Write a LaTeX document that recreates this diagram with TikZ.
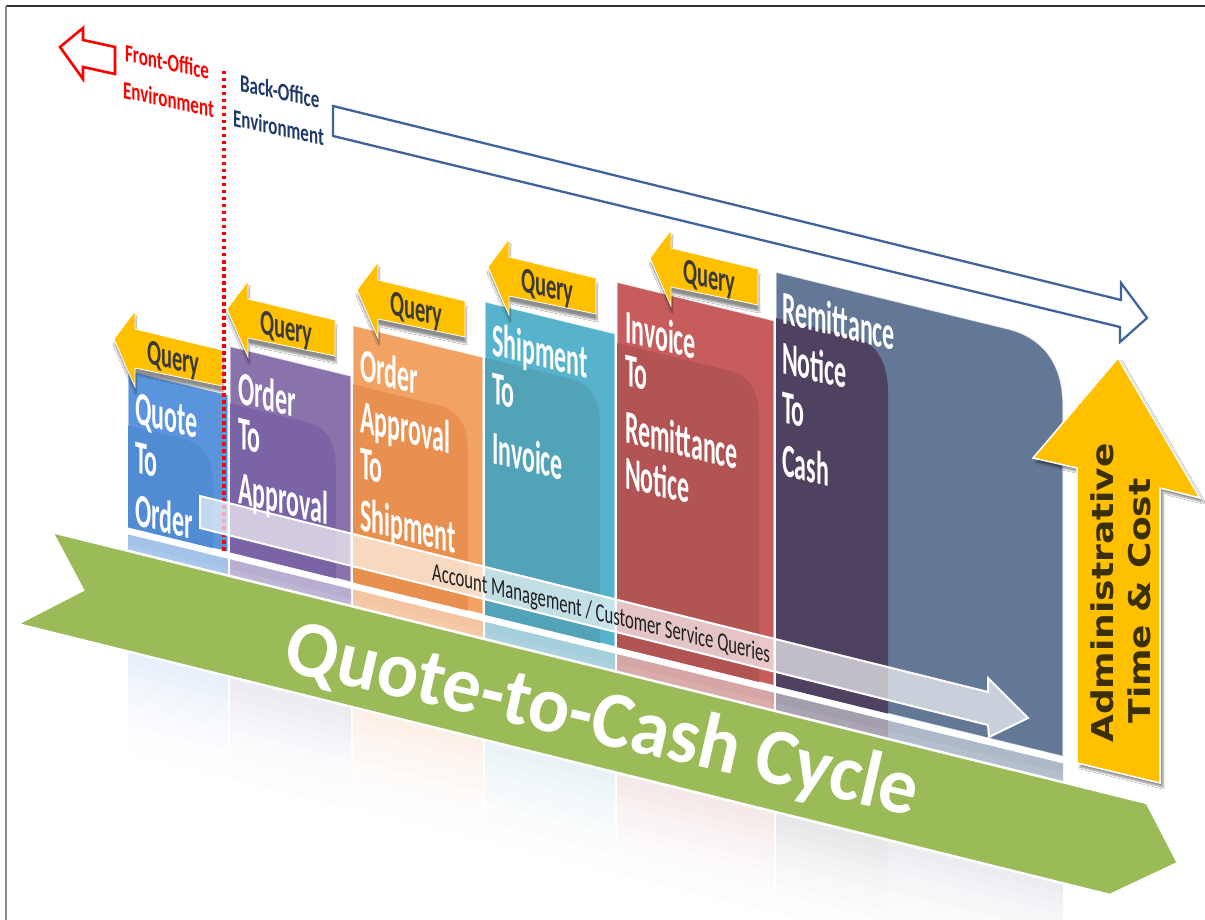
\documentclass[tikz,border=0pt]{standalone}
\usepackage{fontspec}
\setmainfont{Carlito}
\newfontfamily\adminfont{DejaVu Sans}
\usetikzlibrary{shadows.blur}
\definecolor{qyellow}{HTML}{FFC000}
\definecolor{qgreen}{HTML}{9BBB59}
\definecolor{qtext}{HTML}{3A3A3A}
\definecolor{navyline}{HTML}{3F6499}
\definecolor{navytext}{HTML}{1F3A68}
\definecolor{admtext}{HTML}{3A2F05}
\definecolor{amtext}{HTML}{1E1E1E}
\definecolor{poA}{HTML}{5A94DC}\definecolor{piA}{HTML}{518BD4}
\definecolor{poB}{HTML}{8A72AB}\definecolor{piB}{HTML}{7A64A5}
\definecolor{poC}{HTML}{F2A262}\definecolor{piC}{HTML}{E8904F}
\definecolor{poD}{HTML}{57B2CC}\definecolor{piD}{HTML}{52A3B8}
\definecolor{poE}{HTML}{C65C5C}\definecolor{piE}{HTML}{B15453}
\definecolor{poF}{HTML}{637896}\definecolor{piF}{HTML}{4F4260}
\begin{document}
\begin{tikzpicture}[x=1pt,y=-1pt,
  paneltext/.style={anchor=base west, inner sep=0, text=white, font=\bfseries\fontsize{47}{50}\selectfont, yslant=-0.245, xscale=0.51},
  querytext/.style={anchor=base west, inner sep=0, text=qtext, font=\bfseries\fontsize{36}{36}\selectfont, yslant=-0.24, xscale=0.57},
  qarrow/.style={fill=qyellow, draw=white, line width=0.8, blur shadow={shadow xshift=1pt, shadow yshift=-6pt, shadow opacity=45, shadow blur steps=4}},
  envtext/.style={anchor=base west, inner sep=0, font=\bfseries\fontsize{25}{25}\selectfont, yslant=-0.22, xscale=0.68},
  admintext/.style={text=admtext, font=\adminfont\bfseries\fontsize{30}{36}\selectfont, rotate=90, xscale=1.2, inner sep=0},
  outerpanel/.style={draw=white, draw opacity=0.7, line width=1.2},
  hollow/.style={fill=white, line width=2.3, line join=miter},
]
\useasboundingbox (0,0) rectangle (1205,920);
\fill[white] (0,0) rectangle (1205,920);
\clip (0,0) rectangle (1205,920);
% frame
\coordinate (fTL) at (6,6); \coordinate (fTR) at (1205,6); \coordinate (fBL) at (6,920);
\draw[black!80, line width=1.3] (fTL) -- (fTR);
\draw[black!45, line width=1.3] (fTL) -- (fBL);

% reflections (sheared strips)
\begin{scope}[yslant=-0.245]
\foreach \xa/\xb/\cc in {128/228/piA, 230/351/piB, 353/483/piC, 485/615/piD, 617/774/piE, 776/1063/poF, 776/888/piF}{
  \foreach \k in {0,...,23}{
    \pgfmathtruncatemacro\pct{round(52*(1-\k/24)^2)}
    \fill[\cc!\pct!white] (\xa,{503+10*\k}) rectangle (\xb,{514+10*\k});
  }
}
\end{scope}

% green banner
\fill[qgreen, draw=white, line width=2.5, line join=miter] (52,532) -- (1147,803) -- (1178,863) -- (1110,895) -- (17,624) -- (83,590) -- cycle;
\node[text=white, font=\bfseries\fontsize{80}{80}\selectfont, rotate=-13, xscale=0.96, inner sep=0] (qtc) at (602,722) {Quote-to-Cash Cycle};

% panels
\begin{scope}[yslant=-0.245]
\foreach \xa/\xb/\ut/\pout/\pin/\off in {128/228/339/poA/piA/55, 230/351/290/poB/piB/57, 353/483/239/poC/piC/59, 485/615/183/poD/piD/56, 617/774/131/poE/piE/61}{
  \fill[\pout, outerpanel] (\xa,\ut) rectangle (\xb,496);
  \fill[\pin] (\xa,496) -- (\xa,{\ut+\off}) -- ({\xb-45},{\ut+\off}) .. controls ({\xb-25},{\ut+\off}) and ({\xb-15},{\ut+\off+12}) .. ({\xb-15},{\ut+\off+40}) -- ({\xb-15},496) -- cycle;
}
\fill[poF, outerpanel] (776,82) -- (1008,82) .. controls (1040,82) and (1063,100) .. (1063,145) -- (1063,496) -- (776,496) -- cycle;
\fill[piF] (776,496) -- (776,128) -- (853,128) .. controls (877,128) and (888,145) .. (888,175) -- (888,496) -- cycle;
\end{scope}

% query arrows
\foreach \tx/\ty [count=\i] in {114/339,227/309,357/290,488/267,650/258}{
  \path[qarrow] (\tx,\ty) -- ++(21,-28) -- ++(0,18) -- ++(87,21) -- ++(0,36) -- ++(-87,-18) -- ++(0,19) -- cycle;
  \node[querytext] (q\i) at ({\tx+33},{\ty+24}) {Query};
}

% panel texts
\node[paneltext] (tA1) at (135,423) {Quote};
\node[paneltext] (tA2) at (135,472) {To};
\node[paneltext] (tA3) at (135,525) {Order};
\node[paneltext] (tB1) at (238,403) {Order};
\node[paneltext] (tB2) at (238,448) {To};
\node[paneltext] (tB3) at (238,503) {Approval};
\node[paneltext] (tC1) at (360,380) {Order};
\node[paneltext] (tC2) at (360,432) {Approval};
\node[paneltext] (tC3) at (360,478) {To};
\node[paneltext] (tC4) at (360,530) {Shipment};
\node[paneltext] (tD1) at (492,355) {Shipment};
\node[paneltext] (tD2) at (492,403) {To};
\node[paneltext] (tD3) at (492,463) {Invoice};
\node[paneltext] (tE1) at (625,342) {Invoice};
\node[paneltext] (tE2) at (625,385) {To};
\node[paneltext] (tE3) at (625,442) {Remittance};
\node[paneltext] (tE4) at (625,488) {Notice};
\node[paneltext] (tF1) at (782,323) {Remittance};
\node[paneltext] (tF2) at (782,373) {Notice};
\node[paneltext] (tF3) at (782,422) {To};
\node[paneltext] (tF4) at (782,475) {Cash};

% front/back office divider
\coordinate (dtop) at (224,71); \coordinate (dbot) at (224,552);
\draw[red, line width=3.5, dash pattern=on 3.5pt off 3.5pt] (dtop) -- (dbot);

% account management arrow
\draw[white, line width=2, fill=white, fill opacity=0.66, line join=miter] (200,496) -- (988,692) -- (988,678) -- (1028,718) -- (989,737) -- (988,725) -- (200,528) -- cycle;
\node[anchor=base west, inner sep=0, text=amtext, font=\fontsize{26}{26}\selectfont, yslant=-0.245, xscale=0.64] (amt) at (432,580) {Account Management / Customer Service Queries};

% back-office arrow
\draw[hollow, draw=navyline] (333,106) -- (1121,300) -- (1121,283) -- (1147,318) -- (1120,342) -- (1120,327) -- (333,136) -- cycle;
% front-office arrow
\draw[hollow, draw=red, line width=2.6] (60,47) -- (83,28) -- (83,40) -- (115,47) -- (115,74) -- (83,67) -- (83,79) -- cycle;

\node[envtext, text=red] (fo1) at (125,61) {Front-Office};
\node[envtext, text=red] (fo2) at (123,98) {Environment};
\node[envtext, text=navytext] (bo1) at (240,91) {Back-Office};
\node[envtext, text=navytext] (bo2) at (233,126) {Environment};

% administrative arrow
\path[fill=qyellow, draw=white, line width=1.5, blur shadow={shadow xshift=3pt, shadow yshift=-4pt, shadow opacity=45, shadow blur steps=5}] (1118,358) -- (1200,498) -- (1160,488) -- (1160,783) -- (1077,763) -- (1077,468) -- (1033,458) -- cycle;
\node[admintext] (adm1) at (1102,593) {Administrative};
\node[admintext] (adm2) at (1139,601) {Time \& Cost};
\end{tikzpicture}
\end{document}
